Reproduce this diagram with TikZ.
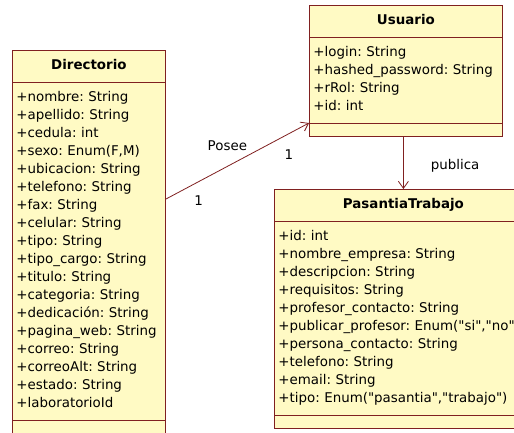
\documentclass[tikz,border=0pt]{standalone}
\usepackage{fontspec}
\setmainfont{DejaVu Sans}[Ligatures=TeXOff]
\usetikzlibrary{shapes.multipart, arrows.meta}

\definecolor{umlfill}{RGB}{255,250,196}
\definecolor{umlline}{RGB}{128,32,32}
\newcommand\ctitle[1]{\hskip0pt plus1fill\textbf{#1}\hskip0pt plus1fill\strut}

\tikzset{
  umlclass/.style={rectangle split, rectangle split parts=3, draw=umlline,
    fill=umlfill, line width=0.8pt, anchor=north west, align=left,
    inner xsep=4pt, inner ysep=6.5pt,
    font=\fontsize{13.4}{18}\selectfont\frenchspacing},
  assoc/.style={draw=umlline, line width=0.8pt,
    -{Straight Barb[length=7pt,width=10pt]}},
  lbl/.style={font=\fontsize{13.4}{16}\selectfont, inner sep=0pt}
}

\begin{document}
\begin{tikzpicture}[x=1pt,y=-1pt]
\useasboundingbox (0,0) rectangle (514,433);
\clip (0,0) rectangle (514,433);
\fill[white] (0,0) rectangle (514,433);

\node[umlclass, text width=145pt] (dir) at (12,50) {%
  \ctitle{Directorio}
  \nodepart{two}\strut+nombre: String\\ \strut+apellido: String\\
  \strut+cedula: int\\ \strut+sexo: Enum(F,M)\\
  \strut+ubicacion: String\\ \strut+telefono: String\\
  \strut+fax: String\\ \strut+celular: String\\
  \strut+tipo: String\\ \strut+tipo\_cargo: String\\
  \strut+titulo: String\\ \strut+categoria: String\\
  \strut+dedicación: String\\ \strut+pagina\_web: String\\
  \strut+correo: String\\ \strut+correoAlt: String\\
  \strut+estado: String\\ \strut+laboratorioId
  \nodepart{three}};

\node[umlclass, text width=185pt] (usr) at (309,5) {%
  \ctitle{Usuario}
  \nodepart{two}\strut+login: String\\ \strut+hashed\_password: String\\
  \strut+rRol: String\\ \strut+id: int
  \nodepart{three}};

\node[umlclass, text width=250pt] (pas) at (274,189) {%
  \ctitle{PasantiaTrabajo}
  \nodepart{two}\strut+id: int\\ \strut+nombre\_empresa: String\\
  \strut+descripcion: String\\ \strut+requisitos: String\\
  \strut+profesor\_contacto: String\\
  \strut+publicar\_profesor: Enum("si","no")\\
  \strut+persona\_contacto: String\\ \strut+telefono: String\\
  \strut+email: String\\ \strut+tipo: Enum("pasantia","trabajo")
  \nodepart{three}};

% asociaciones
\draw[assoc] ([yshift=43pt]dir.east) -- (usr.two split west)
  node[lbl, pos=0.43, above=15pt] {Posee}
  node[lbl, pos=0.23, below=14pt] {1}
  node[lbl, pos=0.86, below=16pt] {1};
\draw[assoc] (usr.south -| pas.north) -- (pas.north)
  node[lbl, midway, right=27pt, yshift=-3pt] {publica};
\end{tikzpicture}
\end{document}
